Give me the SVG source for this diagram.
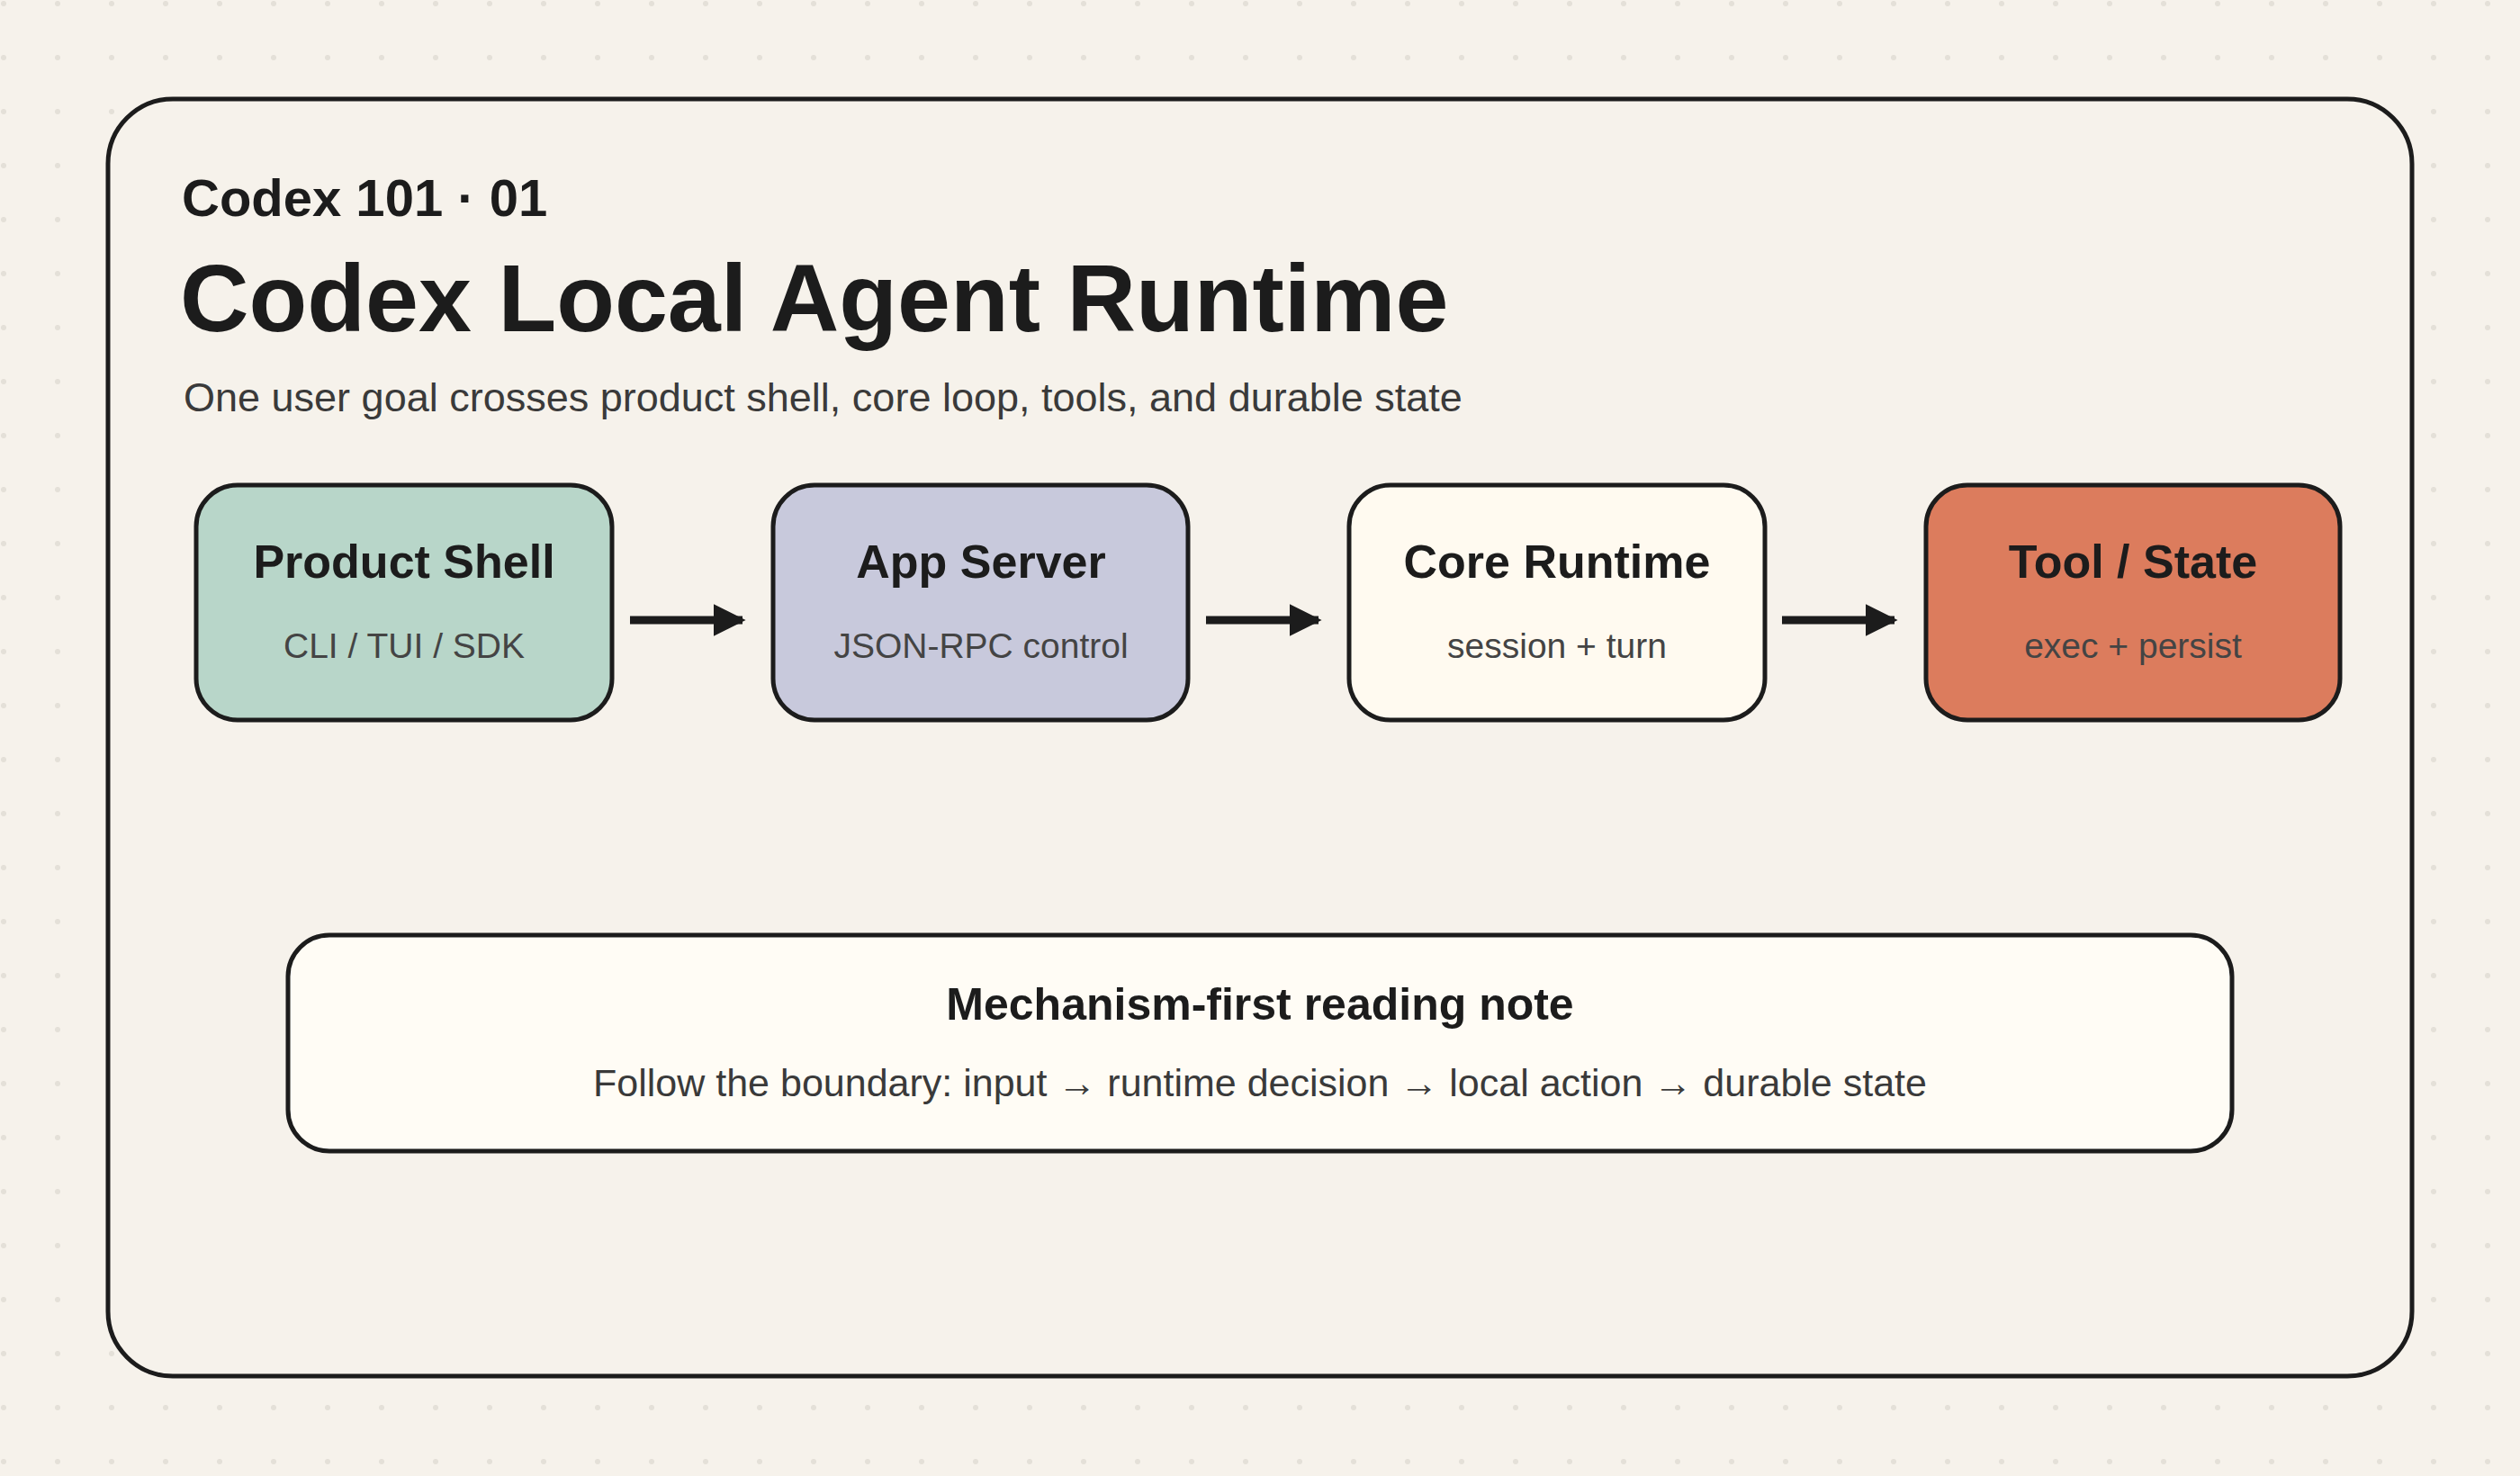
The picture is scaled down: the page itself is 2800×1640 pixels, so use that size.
<svg xmlns="http://www.w3.org/2000/svg" width="2800" height="1640" viewBox="0 0 2800 1640">
<defs>
<pattern id="dots" x="0" y="0" width="60" height="60" patternUnits="userSpaceOnUse"><circle cx="4" cy="4" r="3" fill="#e4e0d8"/></pattern>
<marker id="ah" viewBox="0 0 10 10" refX="9" refY="5" markerWidth="4" markerHeight="4" markerUnits="strokeWidth" orient="auto"><path d="M0,0 L10,5 L0,10 z" fill="#1c1c1c"/></marker>
<style>
text{font-family:"Liberation Sans",Arial,sans-serif;}
.box{stroke:#1c1c1c;stroke-width:5;}
.t{font-size:52px;font-weight:bold;fill:#1c1c1c;text-anchor:middle;}
.s{font-size:39px;fill:#444;text-anchor:middle;}
.c{stroke:#1c1c1c;stroke-width:9;fill:none;marker-end:url(#ah);}
</style>
</defs>
<rect width="2800" height="1640" fill="#f6f2eb"/>
<rect width="2800" height="1640" fill="url(#dots)"/>
<rect x="120" y="110" width="2560" height="1419" rx="72" fill="#f6f2eb" stroke="#1c1c1c" stroke-width="5"/>
<text x="202" y="240" font-size="58" font-weight="bold" fill="#1c1c1c">Codex 101 · 01</text>
<text x="200" y="368" font-size="106" font-weight="bold" fill="#1c1c1c">Codex Local Agent Runtime</text>
<text x="204" y="457" font-size="45" fill="#3a3a3a">One user goal crosses product shell, core loop, tools, and durable state</text>
<g id="n1"><rect class="box" x="218" y="539" width="462" height="261" rx="46" fill="#b8d6c9"/><text class="t" x="449" y="642">Product Shell</text><text class="s" x="449" y="731">CLI / TUI / SDK</text></g>
<g id="n2"><rect class="box" x="859" y="539" width="461" height="261" rx="46" fill="#c8c9dc"/><text class="t" x="1090" y="642">App Server</text><text class="s" x="1090" y="731">JSON-RPC control</text></g>
<g id="n3"><rect class="box" x="1499" y="539" width="462" height="261" rx="46" fill="#fffaf0"/><text class="t" x="1730" y="642">Core Runtime</text><text class="s" x="1730" y="731">session + turn</text></g>
<g id="n4"><rect class="box" x="2140" y="539" width="460" height="261" rx="46" fill="#dc7c5d"/><text class="t" x="2370" y="642">Tool / State</text><text class="s" x="2370" y="731">exec + persist</text></g>
<g id="connectors">
<line class="c" x1="700" y1="689" x2="825" y2="689"/>
<line class="c" x1="1340" y1="689" x2="1465" y2="689"/>
<line class="c" x1="1980" y1="689" x2="2105" y2="689"/>
</g>
<g id="note"><rect class="box" x="320" y="1039" width="2160" height="240" rx="46" fill="#fffcf5" stroke-width="4"/>
<text x="1400" y="1133" font-size="50" font-weight="bold" fill="#1c1c1c" text-anchor="middle">Mechanism-first reading note</text>
<text x="1400" y="1218" font-size="43" fill="#3a3a3a" text-anchor="middle">Follow the boundary: input → runtime decision → local action → durable state</text></g>
</svg>
